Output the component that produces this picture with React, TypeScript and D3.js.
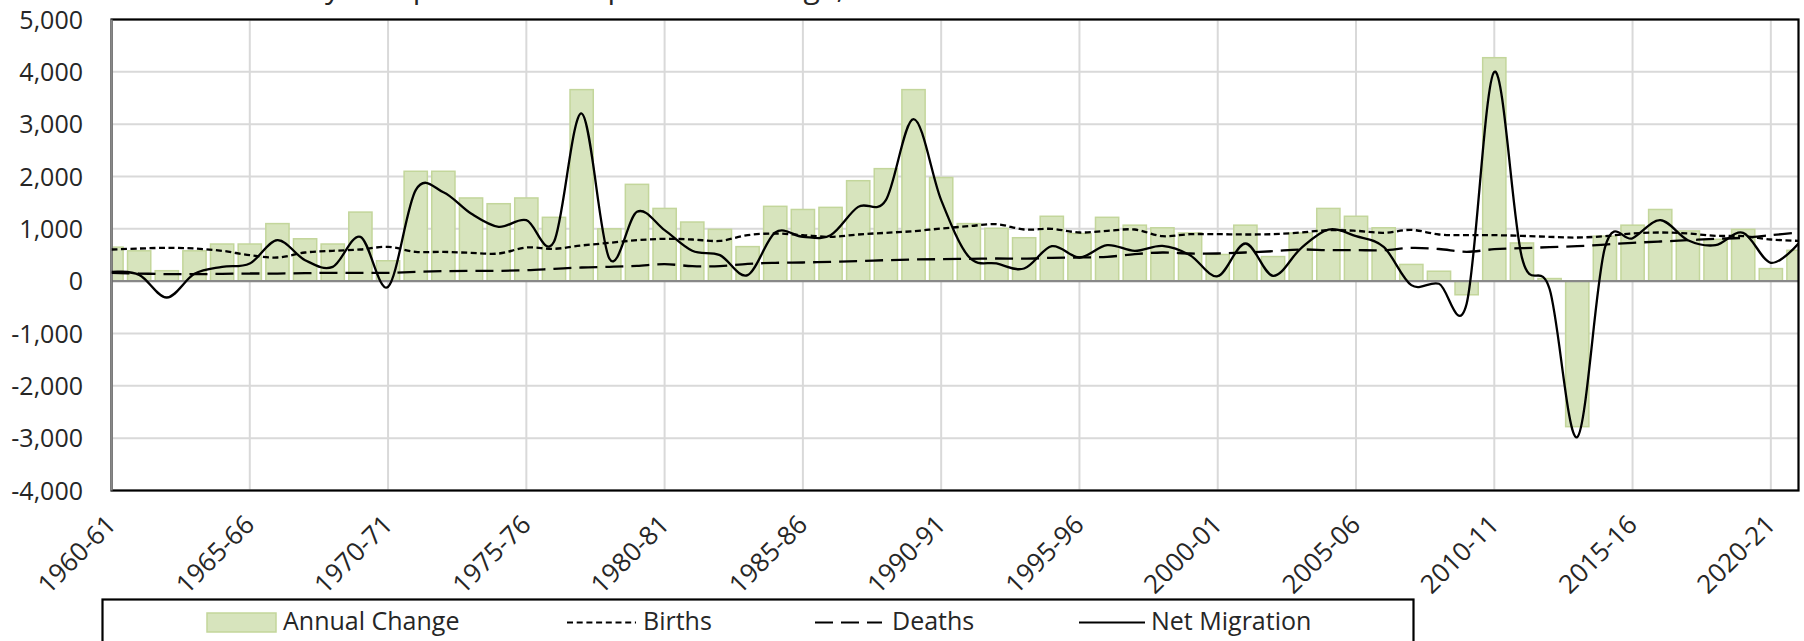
import React from 'react';
import * as d3 from 'd3';

const categories = [
  '1960-61', '1961-62', '1962-63', '1963-64', '1964-65', '1965-66', '1966-67', '1967-68', '1968-69', '1969-70',
  '1970-71', '1971-72', '1972-73', '1973-74', '1974-75', '1975-76', '1976-77', '1977-78', '1978-79', '1979-80',
  '1980-81', '1981-82', '1982-83', '1983-84', '1984-85', '1985-86', '1986-87', '1987-88', '1988-89', '1989-90',
  '1990-91', '1991-92', '1992-93', '1993-94', '1994-95', '1995-96', '1996-97', '1997-98', '1998-99', '1999-00',
  '2000-01', '2001-02', '2002-03', '2003-04', '2004-05', '2005-06', '2006-07', '2007-08', '2008-09', '2009-10',
  '2010-11', '2011-12', '2012-13', '2013-14', '2014-15', '2015-16', '2016-17', '2017-18', '2018-19', '2019-20',
  '2020-21', '2021-22',
];

const tickLabels = [
  '1960-61', '1965-66', '1970-71', '1975-76', '1980-81', '1985-86', '1990-91',
  '1995-96', '2000-01', '2005-06', '2010-11', '2015-16', '2020-21',
];

const yTicks = [-4000, -3000, -2000, -1000, 0, 1000, 2000, 3000, 4000, 5000];

const annualChange = [
  650, 580, 200, 580, 710, 710, 1100, 810, 710, 1320,
  390, 2100, 2100, 1590, 1480, 1590, 1220, 3660, 1000, 1850,
  1390, 1130, 990, 660, 1430, 1370, 1410, 1920, 2150, 3660,
  1980, 1100, 1010, 830, 1240, 910, 1220, 1070, 1020, 920,
  510, 1070, 470, 920, 1390, 1240, 1020, 320, 190, -260,
  4270, 730, 50, -2780, 860, 1070, 1370, 960, 800, 990,
  240, 590,
];

const births = [
  605, 624, 637, 624, 580, 497, 452, 548, 580, 605,
  656, 560, 560, 541, 528, 643, 618, 682, 732, 783,
  809, 796, 770, 879, 911, 879, 847, 892, 924, 955,
  1006, 1051, 1089, 987, 1000, 930, 962, 987, 860, 898,
  898, 892, 898, 930, 975, 962, 924, 980, 892, 879,
  879, 866, 847, 834, 860, 911, 930, 911, 866, 860,
  796, 770,
];

const deaths = [
  159, 146, 134, 134, 140, 146, 146, 153, 159, 159,
  159, 178, 191, 197, 197, 210, 236, 261, 274, 293,
  325, 287, 287, 331, 350, 357, 369, 382, 401, 414,
  420, 427, 433, 430, 446, 452, 465, 516, 548, 529,
  529, 548, 573, 605, 592, 592, 592, 635, 615, 561,
  611, 630, 650, 669, 700, 732, 758, 783, 809, 828,
  879, 930,
];

const netMigration = [
  178, 121, -312, 140, 274, 338, 783, 401, 274, 847,
  -108, 1740, 1700, 1293, 1038, 1166, 752, 3204, 433, 1325,
  975, 580, 497, 115, 930, 847, 879, 1420, 1548, 3096,
  1548, 465, 338, 242, 669, 452, 688, 580, 675, 497,
  96, 720, 102, 624, 987, 860, 656, -76, -50, -430,
  4000, 450, -150, -2980, 640, 820, 1166, 783, 688, 924,
  350, 720,
];

const W = 1804;
const H = 641;
const left = 111.5;
const right = 1798.5;
const top = 19.5;
const bottom = 490.5;
const font = "'Open Sans', 'Noto Sans', sans-serif";
const textColor = '#262626';
const barFill = '#d7e4bd';
const barStroke = '#c3d69b';

// excel shows a plain hyphen for negatives
const fmt = (v: number) => (v < 0 ? '-' : '') + d3.format(',')(Math.abs(v));

export default function App() {
  const x = d3.scalePoint<string>().domain(categories).range([left, right]);
  const y = d3.scaleLinear().domain([-4000, 5000]).range([bottom, top]);
  const barW = x.step() * 0.84;

  const lineGen = d3
    .line<number>()
    .x((_, i) => x(categories[i]) as number)
    .y((d) => y(d))
    .curve(d3.curveCardinal.tension(0));

  return (
    <svg width={W} height={H} style={{ position: 'absolute', left: 0, top: 0, background: '#fff' }}>
      <defs>
        <clipPath id="plot">
          <rect x={left} y={top} width={right - left} height={bottom - top} />
        </clipPath>
      </defs>
      {/* title, cut off at the top of the picture */}
      <text x={255} y={-2} fontFamily={font} fontSize={30} fill={textColor}>
        Yearly Components of Population Change, 1960-61 to 2021-22
      </text>

      <rect x={left} y={top} width={right - left} height={bottom - top} fill="#fff" />

      {/* gridlines */}
      {yTicks.filter((t) => t !== 0).map((t) => (
        <line key={'h' + t} x1={left} x2={right} y1={y(t)} y2={y(t)} stroke="#d9d9d9" strokeWidth={2} />
      ))}
      {tickLabels.map((c) => (
        <line key={'v' + c} x1={x(c)} x2={x(c)} y1={top} y2={bottom} stroke="#d9d9d9" strokeWidth={2} />
      ))}

      {/* bars */}
      <g clipPath="url(#plot)">
        {annualChange.map((v, i) => (
          <rect
            key={i}
            x={(x(categories[i]) as number) - barW / 2}
            y={Math.min(y(v), y(0))}
            width={barW}
            height={Math.abs(y(v) - y(0))}
            fill={barFill}
            stroke={barStroke}
            strokeWidth={1.5}
          />
        ))}
      </g>

      {/* zero axis */}
      <line x1={left} x2={right} y1={y(0)} y2={y(0)} stroke="#888" strokeWidth={2.2} />

      {/* border */}
      <rect x={left} y={top} width={right - left} height={bottom - top} fill="none" stroke="#000" strokeWidth={2.2} />
      <line x1={left} x2={left} y1={top} y2={bottom} stroke="#888" strokeWidth={2.4} />

      {/* lines */}
      <g clipPath="url(#plot)" fill="none" stroke="#000" strokeWidth={2.3}>
        <path d={lineGen(births) || ''} strokeDasharray="6 3.5" />
        <path d={lineGen(deaths) || ''} strokeDasharray="18 8" />
        <path d={lineGen(netMigration) || ''} />
      </g>

      {/* y axis labels */}
      {yTicks.map((t) => (
        <text key={'yl' + t} x={83} y={y(t)} dy="0.36em" textAnchor="end" fontFamily={font} fontSize={25} fill={textColor}>
          {fmt(t)}
        </text>
      ))}

      {/* x axis labels */}
      {tickLabels.map((c) => (
        <text
          key={'xl' + c}
          transform={`translate(${(x(c) as number) - 0.5},519.5) rotate(-45)`}
          dy="0.36em"
          textAnchor="end"
          fontFamily={font}
          fontSize={26}
          fill={textColor}
        >
          {c}
        </text>
      ))}

      {/* legend */}
      <g>
        <rect x={102.5} y={599.5} width={1311} height={70} fill="#fff" stroke="#000" strokeWidth={2.2} />
        <rect x={207} y={613} width={69} height={19} fill={barFill} stroke={barStroke} strokeWidth={1.5} />
        <text x={283} y={630} fontFamily={font} fontSize={25} fill={textColor}>Annual Change</text>
        <line x1={567} x2={636} y1={622.5} y2={622.5} stroke="#000" strokeWidth={2.2} strokeDasharray="6 3.7" />
        <text x={643} y={630} fontFamily={font} fontSize={25} fill={textColor}>Births</text>
        <line x1={815} x2={882} y1={622.5} y2={622.5} stroke="#000" strokeWidth={2.2} strokeDasharray="18 8" />
        <text x={892} y={630} fontFamily={font} fontSize={25} fill={textColor}>Deaths</text>
        <line x1={1079} x2={1145} y1={622.5} y2={622.5} stroke="#000" strokeWidth={2.2} />
        <text x={1151} y={630} fontFamily={font} fontSize={25} fill={textColor}>Net Migration</text>
      </g>
    </svg>
  );
}
